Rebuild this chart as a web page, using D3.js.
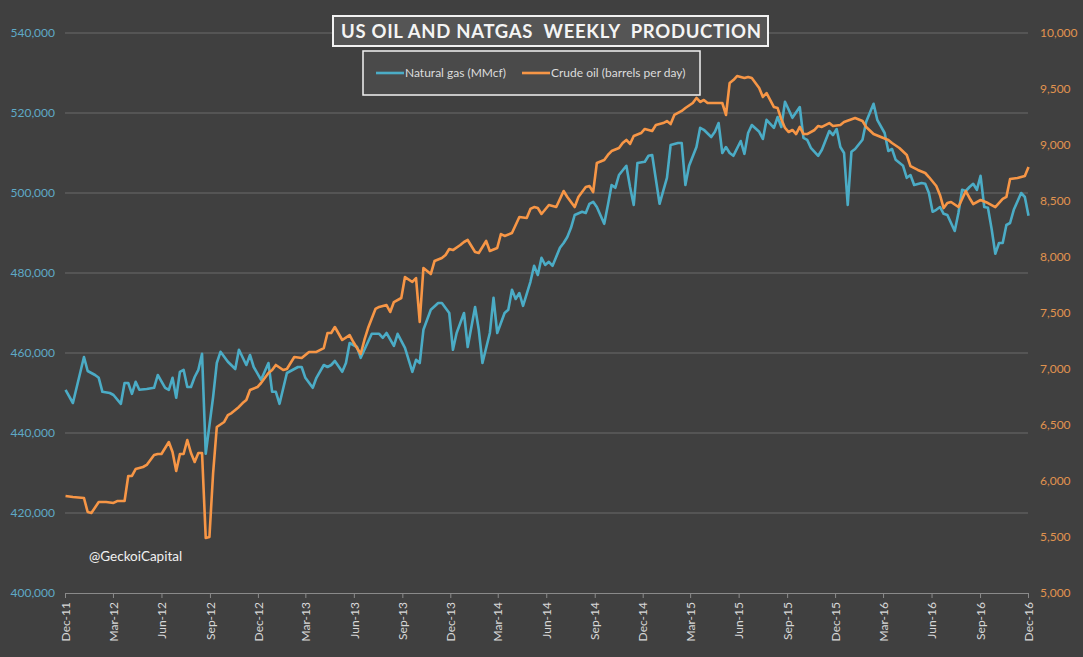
<!DOCTYPE html>
<html>
<head>
<meta charset="utf-8">
<script src="https://cdn.jsdelivr.net/npm/d3@7"></script>
<style>
  html, body { margin: 0; padding: 0; background: #404040; }
  svg { display: block; font-family: Lato, "Open Sans", sans-serif; }
</style>
</head>
<body>
<svg width="1083" height="657"></svg>
<script>
// weeks counted from the first report (2 Dec 2011)
// natural gas, thousand MMcf
const gasWeekly = [
  [0,450.8],[2,447.5],[5,459],[6,455.5],[8,454.5],[9,453.8],[10,450.3],[12,450],[13,449.5],[15,447.3],
  [16,452.5],[17,452.5],[18,449.8],[19,452.8],[20,450.8],[22,451],[24,451.3],[25,454.5],[27,451.3],[28,450.8],
  [29,453.8],[30,448.8],[31,455.3],[32,455.8],[33,451.5],[34,451.5],[35,454],[36,455.8],[37,459.8],[38,434.8],
  [40,449],[41,457.5],[42,460.3],[44,457.8],[46,456],[47,460.8],[49,457],[50,459.5],[51,456.5],[53,453.3],
  [55,457.5],[56,450.3],[57,450.3],[58,447.3],[60,455],[63,456.5],[64,456.5],[65,453.8],[67,451.3],[68,453.8],
  [70,457],[71,456.5],[72,457],[73,458],[75,455.3],[76,457.5],[77,462.5],[79,461.5],[80,458.8],[82,462.8],
  [83,464.8],[85,464.8],[86,463.8],[87,465],[89,461.8],[90,464.8],[92,461.3],[94,455.3],[95,458.3],[96,457.5],
  [97,465.8],[99,470.8],[101,472.5],[102,472.5],[104,470],[105,460.8],[106,465],[108,470],[109,461.5],[111,471.5],
  [112,465.8],[113,457.5],[115,465],[116,473.8],[117,465],[119,470],[120,470.8],[121,475.8],[122,473.5],[123,475],
  [124,471.8],[126,477.8],[127,481.8],[128,479.5],[129,483.8],[130,482],[131,482.8],[132,481.8],[134,486.3],[135,487.5],
  [136,489],[137,491.3],[138,494.5],[140,495.3],[141,495],[142,497.3],[143,497.8],[144,496.5],[146,492.3],[147,497],
  [148,502],[149,501.3],[150,504.5],[152,506.8],[153,501.5],[154,497],[155,507.5],[157,507.8],[158,509.3],[159,509.5],
  [161,497.3],[163,503.8],[164,512],[166,512.5],[167,512.5],[168,502],[169,506.8],[171,511.5],[172,516.3],[173,515.8],
  [175,514],[176,515.3],[177,517.5],[178,510],[179,511.5],[180,510],[181,509.3],[183,513],[184,509.8],[185,515],
  [186,517],[188,515.3],[189,513.5],[190,518.3],[192,516.3],[193,519],[194,516.5],[195,522.8],[197,518.8],[199,521.5],
  [200,513.8],[201,513.3],[202,511.3],[204,509.3],[205,510.8],[207,515.5],[208,514.5],[209,516],[210,511.5],[211,510],
  [212,497],[213,510.3],[214,511],[216,513.3],[217,517.8],[219,522.3],[220,518.3],[222,515],[223,510.5],[224,511],
  [225,508.3],[227,506.8],[228,503.8],[229,504.5],[230,502],[232,502.5],[233,502.3],[234,500],[235,495.3],[236,495.8],
  [237,496.5],[238,494.8],[239,494.5],[241,490.5],[242,495],[243,500.8],[244,500.5],[245,501.5],[246,502.3],[247,500.8],
  [248,504.3],[249,496.5],[250,496.3],[251,491],[252,484.8],[253,487.5],[254,487.5],[255,492],[256,492.5],[257,495.8],
  [259,500],[260,499],[261,494.3]
];

// crude oil, thousand barrels per day
const oilWeekly = [
  [0,5866],[2,5857],[5,5848],[6,5723],[7,5714],[9,5812],[11,5812],[13,5804],[14,5821],[16,5821],
  [17,6045],[18,6045],[19,6107],[21,6125],[22,6143],[24,6232],[25,6241],[26,6241],[28,6348],[29,6259],
  [30,6089],[31,6241],[32,6241],[33,6366],[34,6250],[35,6170],[36,6250],[37,6250],[38,5491],[39,5500],
  [40,6071],[41,6482],[43,6527],[44,6589],[45,6607],[47,6661],[48,6696],[49,6723],[50,6812],[52,6839],
  [53,6875],[55,6964],[56,6991],[57,7036],[59,6991],[60,7000],[62,7107],[64,7098],[66,7152],[68,7152],
  [70,7187],[71,7321],[72,7321],[73,7375],[75,7259],[77,7303],[78,7241],[80,7134],[81,7259],[82,7366],
  [84,7536],[85,7554],[87,7571],[88,7509],[89,7598],[91,7634],[92,7821],[94,7777],[95,7812],[96,7420],
  [97,7902],[99,7848],[100,7964],[102,7991],[103,8018],[104,8071],[105,8062],[107,8107],[108,8134],[109,8152],
  [111,8045],[112,8036],[113,8089],[114,8143],[115,8054],[117,8080],[118,8205],[119,8188],[121,8214],[123,8357],
  [125,8348],[126,8429],[127,8446],[128,8437],[129,8384],[131,8464],[133,8446],[135,8589],[136,8536],[138,8446],
  [139,8536],[141,8625],[142,8634],[143,8580],[144,8839],[146,8866],[147,8911],[148,8946],[150,8973],[151,9018],
  [152,9045],[153,9009],[154,9080],[156,9107],[157,9143],[159,9125],[160,9179],[162,9196],[163,9214],[164,9187],
  [165,9268],[167,9304],[168,9330],[170,9375],[171,9420],[172,9384],[173,9402],[174,9375],[176,9375],[178,9375],
  [179,9268],[180,9554],[181,9580],[182,9616],[184,9598],[185,9607],[186,9598],[187,9554],[188,9509],[189,9429],
  [190,9464],[192,9339],[193,9330],[194,9230],[195,9152],[196,9116],[197,9134],[198,9098],[199,9161],[200,9098],
  [201,9098],[203,9134],[204,9170],[205,9161],[207,9196],[208,9170],[210,9179],[211,9205],[214,9241],[216,9214],
  [217,9161],[219,9098],[221,9071],[223,9045],[224,9018],[226,8973],[228,8911],[229,8812],[231,8777],[233,8750],
  [234,8714],[236,8634],[237,8554],[238,8437],[239,8482],[240,8491],[242,8446],[244,8589],[245,8527],[246,8473],
  [248,8509],[250,8482],[252,8446],[254,8518],[255,8536],[256,8696],[258,8705],[259,8714],[260,8723],[261,8804]
];

const gasTicks = [400000, 420000, 440000, 460000, 480000, 500000, 520000, 540000];
const oilTicks = [5000, 5500, 6000, 6500, 7000, 7500, 8000, 8500, 9000, 9500, 10000];
const seriesNames = ['Natural gas (MMcf)', 'Crude oil (barrels per day)'];
const titleText = 'US OIL AND NATGAS  WEEKLY  PRODUCTION';

const firstWeek = new Date(2011, 11, 2);
const weekDate = w => d3.timeDay.offset(firstWeek, 7 * w);

const gasColor = '#4bacc6';
const oilColor = '#f79646';

const svg = d3.select('svg');
const plotLeft = 65, plotRight = 1028, plotTop = 33, plotBottom = 593;

const x = d3.scaleTime()
  .domain([new Date(2011, 11, 1), new Date(2016, 11, 1)])
  .range([plotLeft, plotRight]);
const yGas = d3.scaleLinear().domain([400000, 540000]).range([plotBottom, plotTop]);
const yOil = d3.scaleLinear().domain([5000, 10000]).range([plotBottom, plotTop]);

// gridlines follow the left axis
svg.append('g')
  .selectAll('line')
  .data(gasTicks.slice(1))
  .enter().append('line')
  .attr('x1', plotLeft).attr('x2', plotRight)
  .attr('y1', d => yGas(d)).attr('y2', d => yGas(d))
  .attr('stroke', '#6a6a6a')
  .attr('stroke-width', 1);

// left axis labels
svg.append('g')
  .selectAll('text')
  .data(gasTicks)
  .enter().append('text')
  .attr('x', 55)
  .attr('y', d => yGas(d))
  .attr('dy', '0.35em')
  .attr('text-anchor', 'end')
  .attr('fill', '#5fa9c6')
  .style('font-size', '12px')
  .text(d3.format(','));

// right axis labels
svg.append('g')
  .selectAll('text')
  .data(oilTicks)
  .enter().append('text')
  .attr('x', 1040)
  .attr('y', d => yOil(d))
  .attr('dy', '0.35em')
  .attr('fill', '#e0934f')
  .style('font-size', '12px')
  .text(d3.format(','));

// x axis, quarterly ticks
const quarters = d3.timeMonth.range(new Date(2011, 11, 1), new Date(2016, 11, 2), 3);
const xAxis = svg.append('g')
  .attr('transform', `translate(0,${plotBottom})`)
  .call(d3.axisBottom(x).tickValues(quarters).tickFormat(d3.timeFormat('%b-%y')).tickSizeOuter(0).tickSize(5));
xAxis.select('.domain').attr('stroke', '#8a8a8a');
xAxis.selectAll('.tick line').attr('stroke', '#8a8a8a');
xAxis.selectAll('.tick text')
  .attr('fill', '#d8d8d8')
  .style('font-size', '12px')
  .style('font-family', 'Lato, "Open Sans", sans-serif')
  .attr('transform', 'rotate(-90)')
  .attr('text-anchor', 'end')
  .attr('x', -9)
  .attr('y', 0)
  .attr('dy', '0.35em');

// series lines
const gasLine = d3.line()
  .x(d => x(weekDate(d[0])))
  .y(d => yGas(d[1] * 1000));
const oilLine = d3.line()
  .x(d => x(weekDate(d[0])))
  .y(d => yOil(d[1]));

svg.append('path')
  .datum(gasWeekly)
  .attr('d', gasLine)
  .attr('fill', 'none')
  .attr('stroke', gasColor)
  .attr('stroke-width', 2.6)
  .attr('stroke-linejoin', 'round');

svg.append('path')
  .datum(oilWeekly)
  .attr('d', oilLine)
  .attr('fill', 'none')
  .attr('stroke', oilColor)
  .attr('stroke-width', 2.6)
  .attr('stroke-linejoin', 'round');

// title box
svg.append('rect')
  .attr('x', 333).attr('y', 16).attr('width', 435).attr('height', 30)
  .attr('fill', '#555555')
  .attr('stroke', '#f2f2f2').attr('stroke-width', 2);
svg.append('text')
  .attr('x', 341).attr('y', 38)
  .attr('fill', '#f4f4f4')
  .attr('textLength', 420)
  .attr('lengthAdjust', 'spacing')
  .style('font-size', '18.5px')
  .style('font-weight', 'bold')
  .style('white-space', 'pre')
  .text(titleText);

// legend
svg.append('rect')
  .attr('x', 363).attr('y', 51).attr('width', 337).attr('height', 44)
  .attr('fill', '#4a4a4a')
  .attr('stroke', '#f2f2f2').attr('stroke-width', 1.5);
const legendItems = [
  { name: seriesNames[0], color: gasColor, x: 376 },
  { name: seriesNames[1], color: oilColor, x: 522 }
];
const legend = svg.append('g')
  .selectAll('g')
  .data(legendItems)
  .enter().append('g')
  .attr('transform', d => `translate(${d.x},73)`);
legend.append('line')
  .attr('x1', 0).attr('x2', 28)
  .attr('stroke', d => d.color)
  .attr('stroke-width', 2.6);
legend.append('text')
  .attr('x', 29)
  .attr('dy', '0.35em')
  .attr('fill', '#dcdcdc')
  .style('font-size', '12px')
  .text(d => d.name);

// watermark
svg.append('text')
  .attr('x', 89).attr('y', 561)
  .attr('fill', '#f0f0f0')
  .style('font-size', '13.5px')
  .text('@GeckoiCapital');
</script>
</body>
</html>
